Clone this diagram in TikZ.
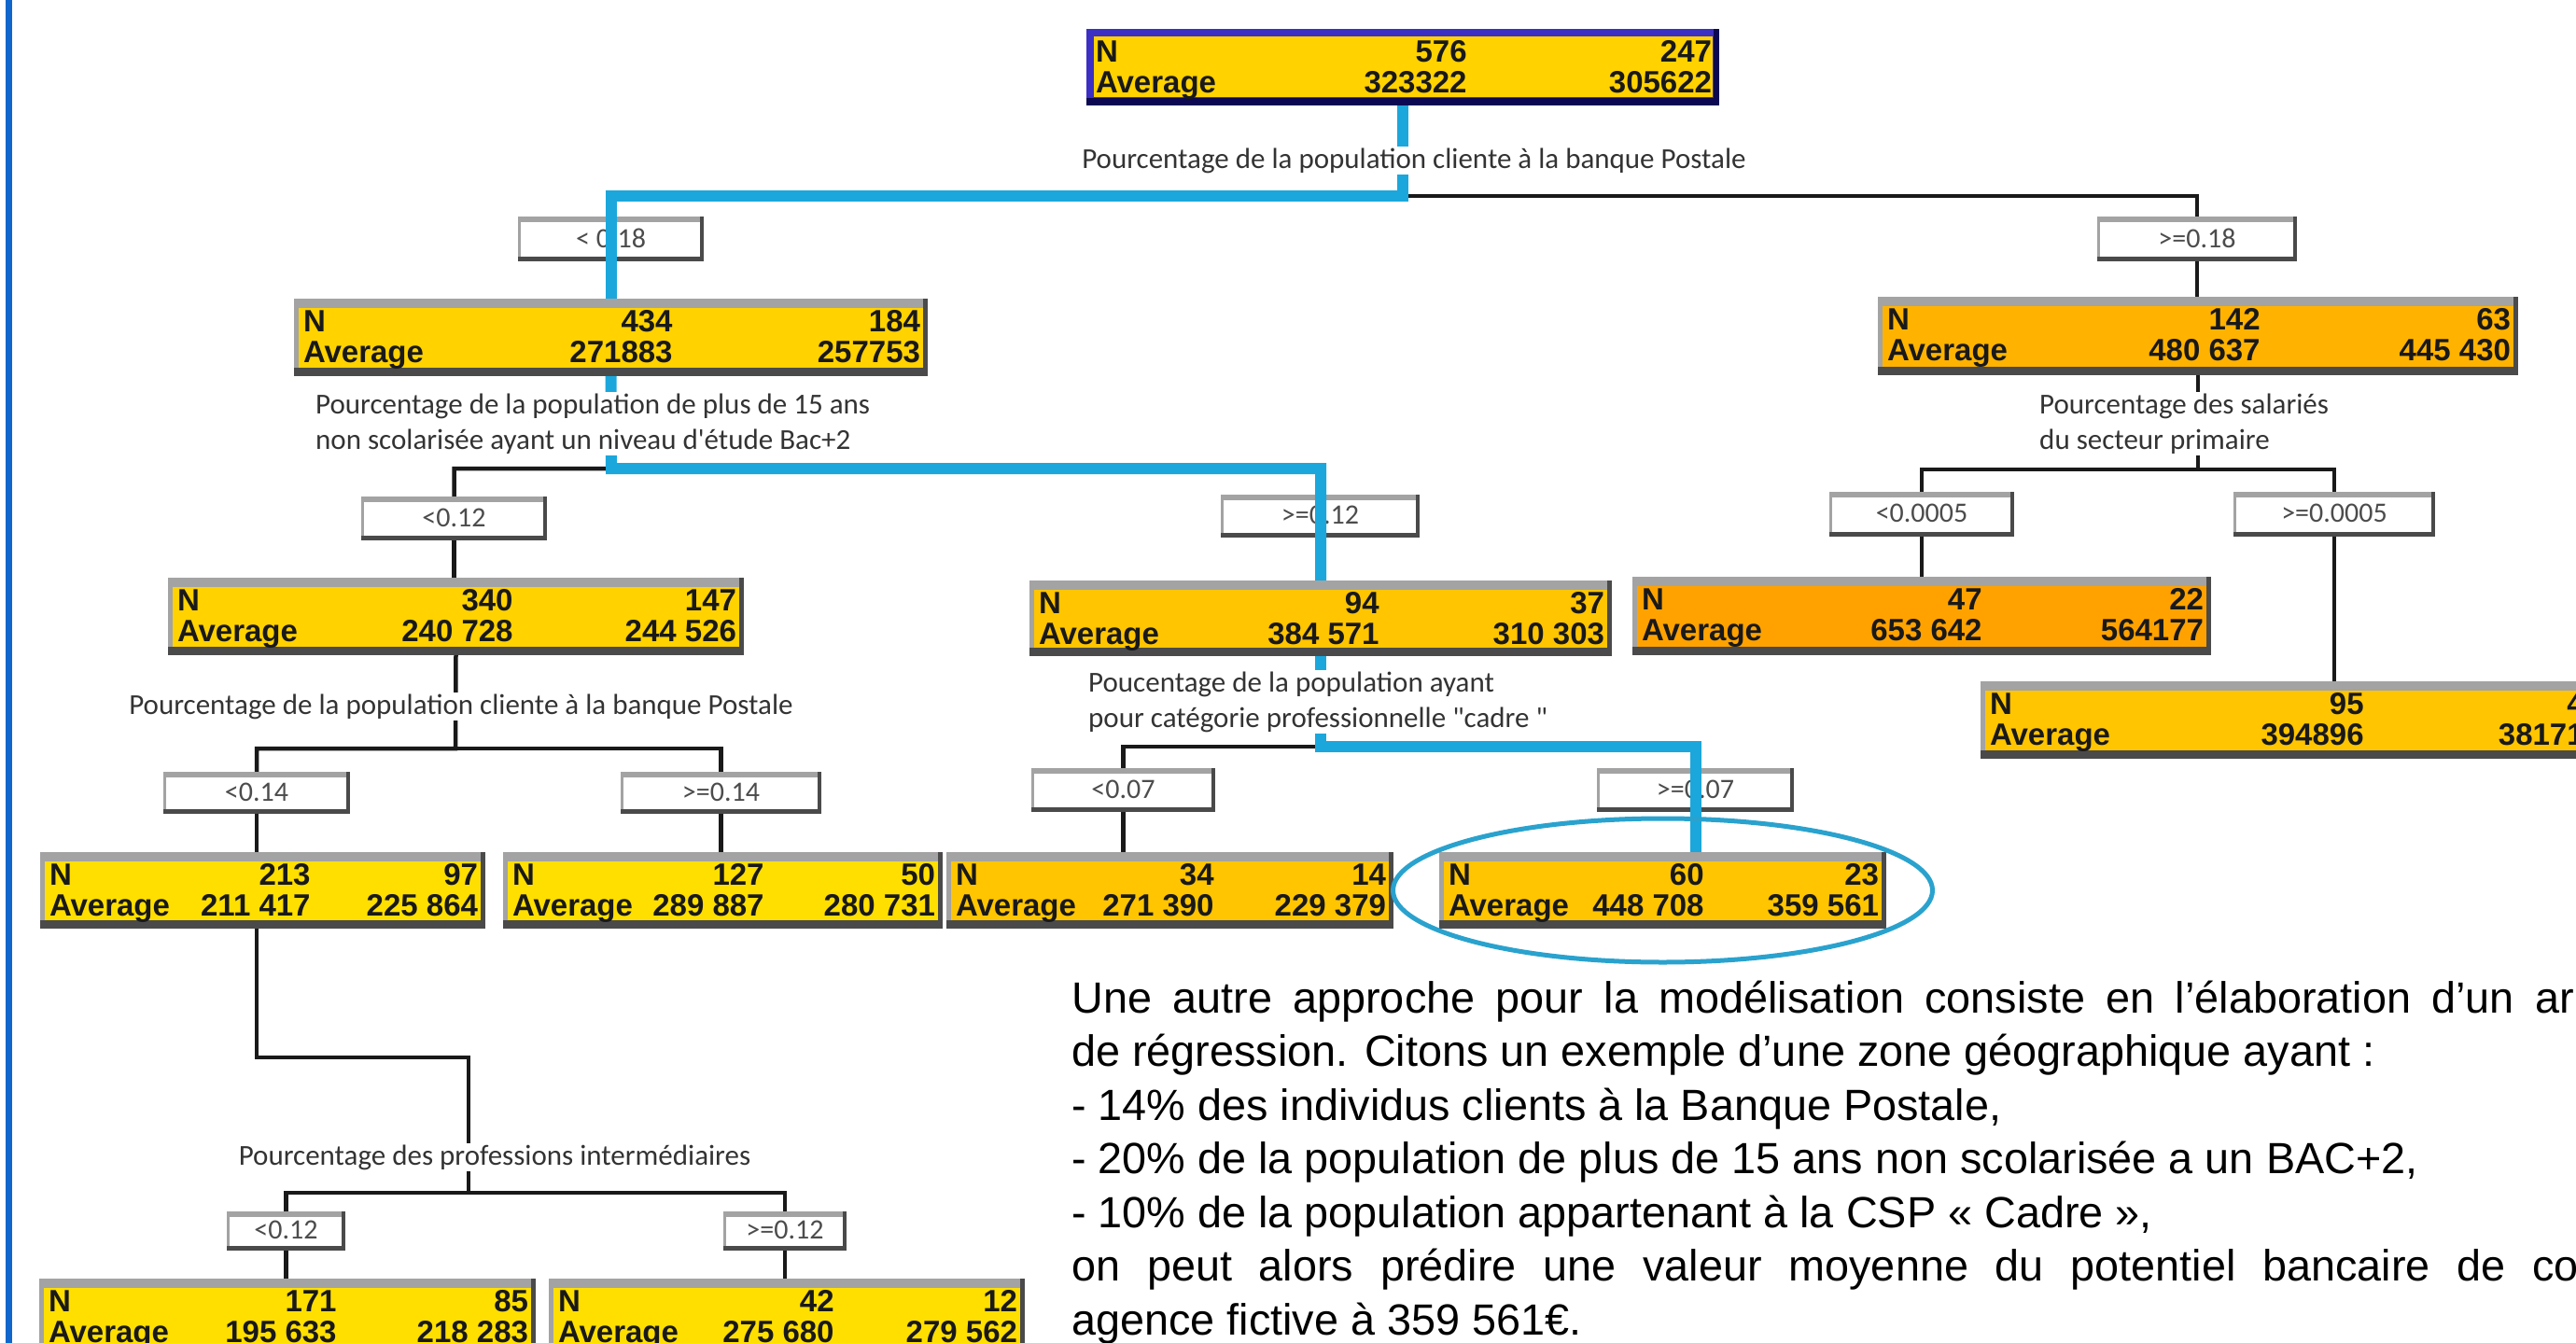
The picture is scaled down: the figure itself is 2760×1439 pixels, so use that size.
\documentclass[tikz,border=0pt]{standalone}
\usepackage{fontspec}
\setmainfont{Liberation Sans}
\newfontfamily\boxfont{Liberation Sans}
\newfontfamily\splitfont{Carlito}
\usetikzlibrary{positioning,fit,backgrounds,calc}

\definecolor{nodeyellow}{HTML}{FFD200}
\definecolor{nodelemon}{HTML}{FFDF00}
\definecolor{nodeamber}{HTML}{FFC500}
\definecolor{nodeorange}{HTML}{FFB300}
\definecolor{nodedeep}{HTML}{FFA200}
\definecolor{rimgray}{HTML}{A3A3A3}
\definecolor{shadegray}{HTML}{4A4A4A}
\definecolor{pathblue}{HTML}{1BA7DB}
\definecolor{ringblue}{HTML}{2AA2CE}
\definecolor{frameblue}{HTML}{1166CC}
\definecolor{rootrim}{HTML}{3B2FC4}
\definecolor{rootshade}{HTML}{0C0852}
\definecolor{labelgray}{HTML}{333333}

% tree box: name, x1, y1, x2, y2, fill
\newcommand{\valbox}[6]{%
  \fill[shadegray] (#2,#3) rectangle (#4,#5);
  \fill[rimgray] (#2,#3) rectangle (#4-5,#5-9);
  \fill[#6] (#2+5,#3+10) rectangle (#4-5,#5-9);
  \node[fit={(#2,#3) (#4,#5)}, inner sep=0pt] (#1) {};
}
% box values: name, middle column offset, N mid, N right, average mid, average right
\newcommand{\valtext}[6]{%
  \node[vtxt, anchor=base west] at ([xshift=10pt,yshift=-36pt]#1.north west) {N};
  \node[vtxt, anchor=base west] at ([xshift=10pt,yshift=-69pt]#1.north west) {Average};
  \node[vtxt, anchor=base east] at ([xshift=#2pt,yshift=-36pt]#1.north west) {#3};
  \node[vtxt, anchor=base east] at ([xshift=-8pt,yshift=-36pt]#1.north east) {#4};
  \node[vtxt, anchor=base east] at ([xshift=#2pt,yshift=-69pt]#1.north west) {#5};
  \node[vtxt, anchor=base east] at ([xshift=-8pt,yshift=-69pt]#1.north east) {#6};
}
% threshold box: name, x1, y1, x2, y2, text
\newcommand{\cutbox}[6]{%
  \fill[shadegray] (#2,#3) rectangle (#4,#5);
  \fill[rimgray] (#2,#3) rectangle (#4-4,#5-5);
  \fill[white] (#2+3,#3+6) rectangle (#4-4,#5-5);
  \node[fit={(#2,#3) (#4,#5)}, inner sep=0pt] (#1) {};
  \node[cuttxt] at ([yshift=1pt]#1.center) {#6};
}

\begin{document}
\begin{tikzpicture}[
    x=1pt, y=-1pt,
    vtxt/.style={font=\boxfont\bfseries\fontsize{33}{36}\selectfont, text=black!90, inner sep=0pt},
    cuttxt/.style={font=\splitfont\fontsize{30}{34}\selectfont, text=black!70, inner sep=0pt},
    split/.style={fill=white, inner sep=2pt, font=\splitfont\fontsize{31}{38}\selectfont, text=labelgray, align=left},
    branch/.style={draw=black!90, line width=4.5pt},
    hilite/.style={draw=pathblue, line width=12pt},
    ring/.style={draw=ringblue, line width=5pt},
    para/.style={font=\fontsize{46.8}{57.5}\selectfont, inner sep=0pt}
]
\useasboundingbox (0,0) rectangle (2760,1439);
\clip (0,0) rectangle (2760,1439);

\draw[draw=frameblue, line width=7pt] (9,0) -- (9,1439);

\fill[rootshade] (1164,31) rectangle (1842,113);
\fill[rootrim] (1164,31) rectangle (1836,105);
\fill[nodeyellow] (1172,39) rectangle (1835,104);
\node[fit={(1164,31) (1842,113)}, inner sep=0pt] (root) {};
\valtext{root}{408}{576}{247}{323322}{305622}

\valbox{n434}{315}{320}{994}{403}{nodeyellow}
\valtext{n434}{406}{434}{184}{271883}{257753}
\valbox{n142}{2012}{318}{2698}{402}{nodeorange}
\valtext{n142}{410}{142}{63}{480 637}{445 430}
\valbox{n340}{180}{619}{797}{702}{nodeyellow}
\valtext{n340}{370}{340}{147}{240 728}{244 526}
\valbox{n94}{1103}{622}{1727}{703}{nodeamber}
\valtext{n94}{375}{94}{37}{384 571}{310 303}
\valbox{n47}{1749}{618}{2369}{702}{nodedeep}
\valtext{n47}{375}{47}{22}{653 642}{564177}
\valbox{n95}{2122}{730}{2795}{813}{nodeamber}
\valtext{n95}{411}{95}{4\phantom{0}}{394896}{38171\phantom{0}}
\valbox{n213}{43}{913}{520}{995}{nodelemon}
\valtext{n213}{290}{213}{97}{211 417}{225 864}
\valbox{n127}{539}{913}{1010}{995}{nodelemon}
\valtext{n127}{280}{127}{50}{289 887}{280 731}
\valbox{n34}{1014}{913}{1493}{995}{nodeamber}
\valtext{n34}{287}{34}{14}{271 390}{229 379}
\valbox{n60}{1542}{913}{2021}{995}{nodeamber}
\valtext{n60}{284}{60}{23}{448 708}{359 561}
\valbox{n171}{42}{1370}{574}{1460}{nodelemon}
\valtext{n171}{319}{171}{85}{195 633}{218 283}
\valbox{n42}{588}{1370}{1098}{1460}{nodelemon}
\valtext{n42}{306}{42}{12}{275 680}{279 562}

\cutbox{t1}{555}{232}{754}{280}{< 0.18}
\cutbox{t2}{2247}{232}{2461}{280}{>=0.18}
\cutbox{t3}{387}{532}{586}{579}{<0.12}
\cutbox{t4}{1308}{530}{1521}{576}{>=0.12}
\cutbox{t5}{1960}{527}{2158}{575}{<0.0005}
\cutbox{t6}{2393}{527}{2609}{575}{>=0.0005}
\cutbox{t7}{175}{827}{375}{872}{<0.14}
\cutbox{t8}{665}{827}{880}{872}{>=0.14}
\cutbox{t9}{1105}{823}{1302}{870}{<0.07}
\cutbox{t10}{1711}{823}{1922}{870}{>=0.07}
\cutbox{t11}{243}{1298}{370}{1340}{<0.12}
\cutbox{t12}{775}{1298}{907}{1340}{>=0.12}

\coordinate (s0) at (1503,210);
\coordinate (s1) at (655,502);
\coordinate (s2) at (2355,503);
\coordinate (s3) at (488,802);
\coordinate (s4) at (1415,800);
\coordinate (k5) at (502,1133);
\coordinate (s5) at (502,1278);

\begin{scope}[on background layer]
\draw[branch] (root.south) -- (s0) -| (t1.north);
\draw[branch] (s0) -| (t2.north);
\draw[branch] (n434.south) -- (s1) -| (t3.north);
\draw[branch] (s1) -| (t4.north);
\draw[branch] (n142.south) -- (s2) -| (t5.north);
\draw[branch] (s2) -| (t6.north);
\draw[branch] (n340.south) -- (s3) -| (t7.north);
\draw[branch] (s3) -| (t8.north);
\draw[branch] (n94.south) -- (s4) -| (t9.north);
\draw[branch] (s4) -| (t10.north);
\draw[branch] (n213.south -| t7.south) |- (k5) -- (s5);
\draw[branch] (s5) -| (t11.north);
\draw[branch] (s5) -| (t12.north);
\foreach \i/\j in {t1/n434, t2/n142, t3/n340, t4/n94, t5/n47, t6/n95, t7/n213, t8/n127, t9/n34, t10/n60, t11/n171, t12/n42}
  \draw[branch] (\i.south) -- (\i.south |- \j.north);
\end{scope}

\draw[hilite] (root.south) -- (s0) -| (n434.north);
\draw[hilite] (n434.south) -- (s1) -| (n94.north);
\draw[hilite] (n94.south) -- (s4) -| (t10.south |- n60.north);

\node[split] (q0) at (1515,172) {Pourcentage de la population cliente à la banque Postale};
\node[split, anchor=west] (q1) at (336,454) {Pourcentage de la population de plus de 15 ans\\non scolarisée ayant un niveau d'étude Bac+2};
\node[split, anchor=west] (q2) at (2183,454) {Pourcentage des salariés\\du secteur primaire};
\node[split] (q3) at (494,757) {Pourcentage de la population cliente à la banque Postale};
\node[split, anchor=west] (q4) at (1164,752) {Poucentage de la population ayant\\pour catégorie professionnelle "cadre "};
\node[split] (q5) at (530,1240) {Pourcentage des professions intermédiaires};

\draw[ring] (n60.center) ellipse [x radius=289pt, y radius=77pt];

\foreach \parline [count=\i from 0] in {%
  {\makebox[1610pt][s]{Une autre approche pour la modélisation consiste en l’élaboration d’un ar}},
  {de régression. Citons un exemple d’une zone géographique ayant :},
  {- 14\% des individus clients à la Banque Postale,},
  {- 20\% de la population de plus de 15 ans non scolarisée a un BAC+2,},
  {- 10\% de la population appartenant à la CSP « Cadre »,},
  {\makebox[1615pt][s]{on peut alors prédire une valeur moyenne du potentiel bancaire de co}},
  {agence fictive à 359 561€.}}
  \node[para, anchor=base west] (p\i) at (1148,1085+57.5*\i) {\parline};
\end{tikzpicture}
\end{document}
